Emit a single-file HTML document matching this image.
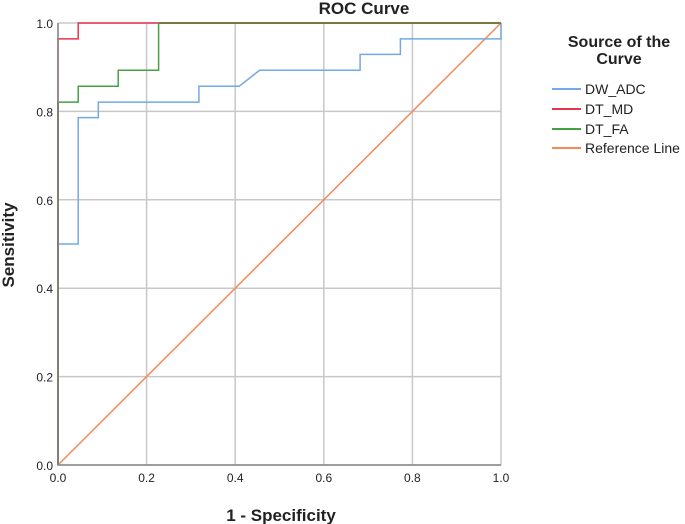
<!DOCTYPE html>
<html><head><meta charset="utf-8"><style>
body{margin:0;background:#fff;}
svg{display:block;font-family:"Liberation Sans",Arial,sans-serif;}
</style></head><body>
<svg id="chart" width="685" height="524" viewBox="0 0 685 524">
<g id="grid"></g>
<g id="series"></g>
<g id="axes"></g>
<text x="364" y="14" text-anchor="middle" font-size="17" font-weight="bold" fill="#222">ROC Curve</text>
<text x="281" y="521" text-anchor="middle" font-size="17" font-weight="bold" fill="#222">1 - Specificity</text>
<text transform="translate(14,245) rotate(-90)" text-anchor="middle" font-size="17" font-weight="bold" fill="#222">Sensitivity</text>
<g>
<text x="619" y="47" text-anchor="middle" font-size="16" font-weight="bold" fill="#222">Source of the</text>
<text x="619" y="64" text-anchor="middle" font-size="16" font-weight="bold" fill="#222">Curve</text>
<g id="legend-items"></g>
</g>
</svg>
<script>
const xTicks=[0,0.2,0.4,0.6,0.8,1.0];
const yTicks=[0,0.2,0.4,0.6,0.8,1.0];
const tickLabels=["0.0","0.2","0.4","0.6","0.8","1.0"];
const seriesNames=["DW_ADC","DT_MD","DT_FA","Reference Line"];
const seriesColors=["#72a9e6","#e8334f","#46a044","#f4895a"];
const adcX=[0,0,0.0455,0.0455,0.091,0.091,0.318,0.318,0.409,0.455,0.682,0.682,0.773,0.773,1,1];
const adcY=[0,0.5,0.5,0.786,0.786,0.821,0.821,0.857,0.857,0.893,0.893,0.929,0.929,0.964,0.964,1];
const mdX=[0,0,0.0455,0.0455,1];
const mdY=[0,0.964,0.964,1,1];
const faX=[0,0,0.0455,0.0455,0.136,0.136,0.227,0.227,1];
const faY=[0,0.821,0.821,0.857,0.857,0.893,0.893,1,1];
const refX=[0,1];
const refY=[0,1];
const X0=58,X1=501,Y0=465,Y1=23;
const sx=v=>X0+(X1-X0)*v, sy=v=>Y0-(Y0-Y1)*v;
const NS="http://www.w3.org/2000/svg";
function mk(t,a,p){const e=document.createElementNS(NS,t);for(const k in a)e.setAttribute(k,a[k]);p.appendChild(e);return e;}
const grid=document.getElementById('grid'),axes=document.getElementById('axes'),ser=document.getElementById('series');
xTicks.forEach((v,i)=>{
 const l=mk('line',{x1:sx(v),x2:sx(v),y1:Y1,y2:Y0,stroke:'#c8c8c8','stroke-width':1.5},grid);
 
 
 const t=mk('text',{x:sx(v),y:Y0+17,'text-anchor':'middle','font-size':12,fill:'#222'},axes);
 t.textContent=tickLabels[i];
 
 
});
yTicks.forEach((v,i)=>{
 const l=mk('line',{x1:X0,x2:X1,y1:sy(v),y2:sy(v),stroke:'#c8c8c8','stroke-width':1.5},grid);
 
 
 const t=mk('text',{x:X0-5,y:sy(v)+5,'text-anchor':'end','font-size':12,fill:'#222'},axes);
 t.textContent=tickLabels[i];
 
 
});
const axPath=mk('path',{d:`M${X0},${Y1}V${Y0}H${X1}`,fill:'none',stroke:'#888','stroke-width':1.5},axes);


const all=[[adcX,adcY],[mdX,mdY],[faX,faY],[refX,refY]];
const order=[3,0,1,2];
const names=['dw-adc-line','dt-md-line','dt-fa-line','reference-line'];
order.forEach(i=>{
 const xs=all[i][0],ys=all[i][1];
 const d=xs.map((x,j)=>(j?'L':'M')+sx(x).toFixed(1)+','+sy(ys[j]).toFixed(1)).join('');
 const p=mk('path',{d:d,fill:'none',stroke:seriesColors[i],'stroke-width':1.5},ser);
 
 
});
const topLine=mk('line',{x1:sx(0.227),x2:sx(1),y1:sy(1),y2:sy(1),stroke:'#7a7a40','stroke-width':2},ser);


const leftLine=mk('line',{x1:sx(0),x2:sx(0),y1:sy(0),y2:sy(0.821),stroke:'#5f6a38','stroke-width':2},ser);


const li=document.getElementById('legend-items');
const ly=[89,109,129,148];
seriesNames.forEach((n,i)=>{
 const l=mk('line',{x1:552,x2:581,y1:ly[i],y2:ly[i],stroke:seriesColors[i],'stroke-width':2},li);
 
 
 const t=mk('text',{x:585,y:ly[i]+5,'font-size':14,fill:'#222'},li);
 t.textContent=n;
 
 
});
</script>
</body></html>
